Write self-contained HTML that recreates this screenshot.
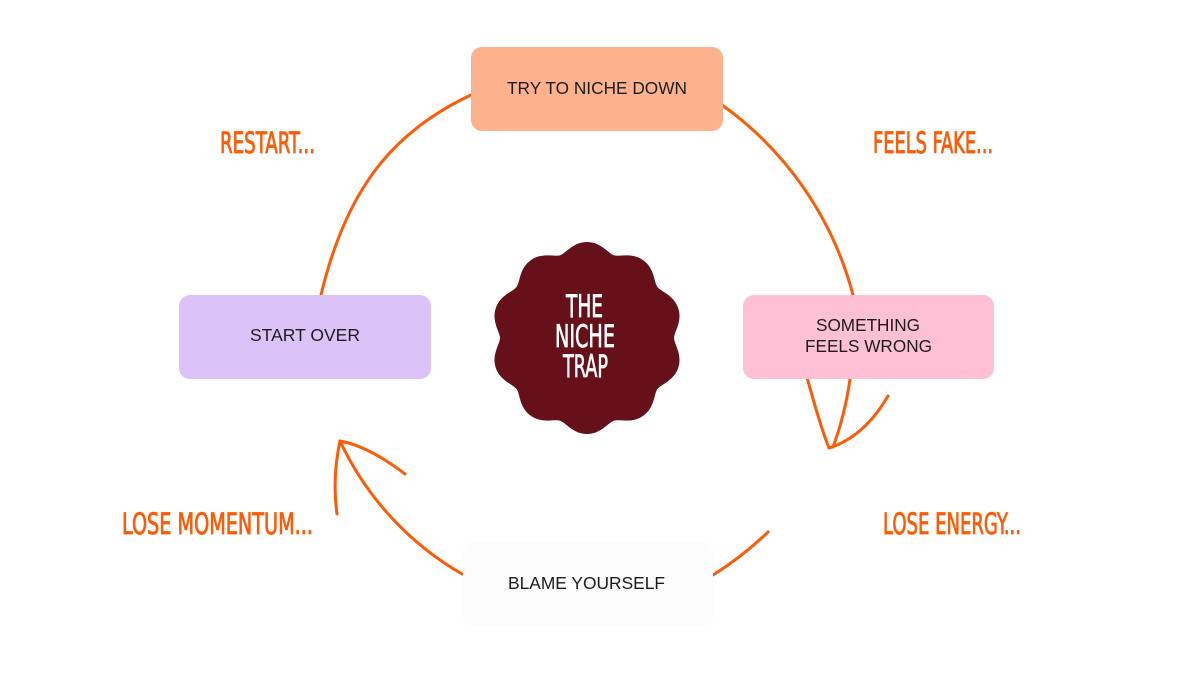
<!DOCTYPE html>
<html>
<head>
<meta charset="utf-8">
<style>
  html,body{margin:0;padding:0;background:#ffffff;}
  svg{display:block;}
  .box{font-family:"Liberation Sans",Arial,sans-serif;font-size:17.5px;fill:#1c1c1c;}
  .lbl{font-family:"DejaVu Sans Condensed","Liberation Sans Narrow","Liberation Sans",sans-serif;font-size:29px;font-weight:normal;fill:#ff5a05;stroke:#ff5a05;stroke-width:0.8px;}
  .badge{font-family:"DejaVu Sans Condensed","Liberation Sans Narrow","Liberation Sans",sans-serif;font-size:31px;font-weight:normal;fill:#ffffff;stroke:#ffffff;stroke-width:0.7px;}
</style>
</head>
<body>
<svg width="1200" height="675" viewBox="0 0 1200 675" xmlns="http://www.w3.org/2000/svg">
  <rect x="0" y="0" width="1200" height="675" fill="#ffffff"/>

  <!-- connectors -->
  <g fill="none" stroke="#ff5a05" stroke-width="3" stroke-linecap="round" stroke-linejoin="round">
    <!-- top-left arc -->
    <path d="M471,95 C392,132 346,190 321,295"/>
    <!-- top-right arc -->
    <path d="M722,105 A340,340 0 0,1 853,295"/>
    <!-- right continuation to arrow tip -->
    <path d="M853,295 Q858,380 833,447"/>
    <!-- right arrowhead -->
    <path d="M803,362 Q818,420 829,448 Q864,437 888,396"/>
    <!-- bottom-right segment -->
    <path d="M768,532 Q742,557 713,575"/>
    <!-- bottom-left arc -->
    <path d="M462,574 A300,300 0 0,1 340,441"/>
    <!-- bottom-left arrowhead -->
    <path d="M340,441 Q332,478 337,514"/>
    <path d="M340,441 Q368,446 405,474"/>
  </g>

  <!-- boxes -->
  <rect x="471" y="47" width="252" height="84" rx="11" ry="11" fill="#feb18d"/>
  <text class="box" x="507" y="94" textLength="180" lengthAdjust="spacingAndGlyphs">TRY TO NICHE DOWN</text>

  <rect x="179" y="295" width="252" height="84" rx="11" ry="11" fill="#dcc3f7"/>
  <text class="box" x="250" y="341" textLength="110" lengthAdjust="spacingAndGlyphs">START OVER</text>

  <rect x="743" y="295" width="251" height="84" rx="11" ry="11" fill="#ffc0d6"/>
  <text class="box" x="816" y="331" textLength="104" lengthAdjust="spacingAndGlyphs">SOMETHING</text>
  <text class="box" x="805" y="352" textLength="127" lengthAdjust="spacingAndGlyphs">FEELS WRONG</text>

  <rect x="463" y="542" width="250" height="84" rx="11" ry="11" fill="#fcfcfc"/>
  <text class="box" x="508" y="589" textLength="157" lengthAdjust="spacingAndGlyphs">BLAME YOURSELF</text>

  <!-- badge -->
  <g transform="translate(587,338)" fill="#661119">
    <circle cx="0" cy="0" r="86.5"/>
    <path transform="rotate(0)" d="M0,0 L-26.88,-82.74 C-21.17,-84.59 -14,-96 0,-96 C14,-96 21.17,-84.59 26.88,-82.74 Z"/>
    <path transform="rotate(36)" d="M0,0 L-26.88,-82.74 C-21.17,-84.59 -14,-96 0,-96 C14,-96 21.17,-84.59 26.88,-82.74 Z"/>
    <path transform="rotate(72)" d="M0,0 L-26.88,-82.74 C-21.17,-84.59 -14,-96 0,-96 C14,-96 21.17,-84.59 26.88,-82.74 Z"/>
    <path transform="rotate(108)" d="M0,0 L-26.88,-82.74 C-21.17,-84.59 -14,-96 0,-96 C14,-96 21.17,-84.59 26.88,-82.74 Z"/>
    <path transform="rotate(144)" d="M0,0 L-26.88,-82.74 C-21.17,-84.59 -14,-96 0,-96 C14,-96 21.17,-84.59 26.88,-82.74 Z"/>
    <path transform="rotate(180)" d="M0,0 L-26.88,-82.74 C-21.17,-84.59 -14,-96 0,-96 C14,-96 21.17,-84.59 26.88,-82.74 Z"/>
    <path transform="rotate(216)" d="M0,0 L-26.88,-82.74 C-21.17,-84.59 -14,-96 0,-96 C14,-96 21.17,-84.59 26.88,-82.74 Z"/>
    <path transform="rotate(252)" d="M0,0 L-26.88,-82.74 C-21.17,-84.59 -14,-96 0,-96 C14,-96 21.17,-84.59 26.88,-82.74 Z"/>
    <path transform="rotate(288)" d="M0,0 L-26.88,-82.74 C-21.17,-84.59 -14,-96 0,-96 C14,-96 21.17,-84.59 26.88,-82.74 Z"/>
    <path transform="rotate(324)" d="M0,0 L-26.88,-82.74 C-21.17,-84.59 -14,-96 0,-96 C14,-96 21.17,-84.59 26.88,-82.74 Z"/>
  </g>
  <text class="badge" x="566" y="317" textLength="37" lengthAdjust="spacingAndGlyphs">THE</text>
  <text class="badge" x="555" y="347" textLength="60" lengthAdjust="spacingAndGlyphs">NICHE</text>
  <text class="badge" x="563" y="377" textLength="45" lengthAdjust="spacingAndGlyphs">TRAP</text>

  <!-- orange labels -->
  <text class="lbl" x="220" y="153" textLength="95" lengthAdjust="spacingAndGlyphs">RESTART...</text>
  <text class="lbl" x="873" y="153" textLength="120" lengthAdjust="spacingAndGlyphs">FEELS FAKE...</text>
  <text class="lbl" x="883" y="534" textLength="138" lengthAdjust="spacingAndGlyphs">LOSE ENERGY...</text>
  <text class="lbl" x="122" y="534" textLength="191" lengthAdjust="spacingAndGlyphs">LOSE MOMENTUM...</text>
</svg>
</body>
</html>
